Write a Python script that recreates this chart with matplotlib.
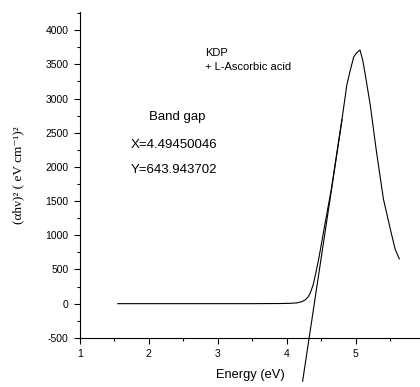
import matplotlib
matplotlib.use('Agg')
from matplotlib import pyplot as plt
from matplotlib.ticker import MultipleLocator

plt.rcParams['font.family'] = ['Liberation Sans', 'DejaVu Sans']
plt.rcParams['axes.unicode_minus'] = False

# (alpha h nu)^2 curve
energy = [1.55, 2.0, 2.5, 3.0, 3.5, 3.9, 4.05, 4.15, 4.22, 4.27, 4.31, 4.34,
          4.38, 4.41, 4.46, 4.55, 4.65, 4.72, 4.80, 4.87, 4.92, 4.97, 5.01,
          5.06, 5.10, 5.13, 5.21, 5.30, 5.40, 5.50, 5.57, 5.63]
alpha_hv2 = [0, 0, 0, 0, 0, 2, 5, 12, 30, 58, 100, 156,
             270, 400, 642, 1150, 1700, 2170, 2700, 3200, 3416, 3610, 3665,
             3710, 3560, 3390, 2900, 2215, 1530, 1090, 795, 655]

# linear fit used for the band gap
fit_energy = [4.229, 4.80]
fit_alpha = [-1134, 2692]
band_gap_x = 4.49450046
band_gap_y = 643.943702

fig = plt.figure(figsize=(4.2, 3.87), dpi=100)
ax = fig.add_axes([0.19, 0.127, 0.81, 0.842])

ax.plot(energy, alpha_hv2, color='black', lw=0.8)
ax.plot(fit_energy, fit_alpha, color='black', lw=0.8, clip_on=False)

ax.set_xlim(1, 5.93)
ax.set_ylim(-500, 4265)
ax.set_xticks([1, 2, 3, 4, 5])
ax.xaxis.set_minor_locator(MultipleLocator(0.5))
ax.yaxis.set_major_locator(MultipleLocator(500))
ax.yaxis.set_minor_locator(MultipleLocator(250))
ax.tick_params(which='major', direction='out', length=4, width=0.8,
               labelsize=7.5, pad=4)
ax.tick_params(which='minor', direction='out', length=2, width=0.8)
ax.spines['top'].set_visible(False)
ax.spines['right'].set_visible(False)

ax.set_xlabel('Energy (eV)', fontsize=9.3, labelpad=7)
ax.set_ylabel('(\u03b1h\u03bd)\u00b2 ( eV cm\u207b\u00b9)\u00b2', fontsize=9.5,
              family=['Liberation Serif', 'DejaVu Serif'], labelpad=15)

ax.text(2.816, 3664, 'KDP', fontsize=8, va='center')
ax.text(2.816, 3460, '+ L-Ascorbic acid', fontsize=8, va='center')
ax.text(2.417, 2730, 'Band gap', fontsize=9.5, ha='center', va='center')
ax.text(1.744, 2321, f'X={band_gap_x:.8f}', fontsize=9.5, va='center')
ax.text(1.744, 1956, f'Y={band_gap_y:.6f}', fontsize=9.5, va='center')

fig.savefig('out.png', dpi=100)
